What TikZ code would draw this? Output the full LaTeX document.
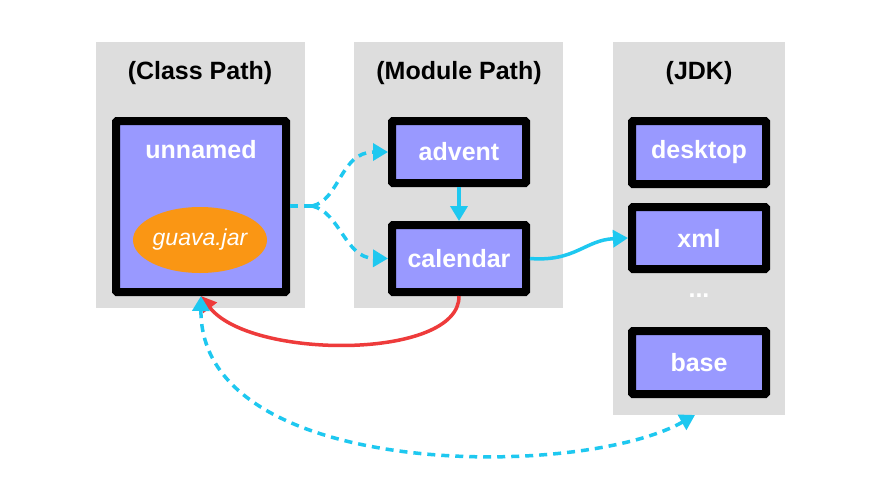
\documentclass[tikz,border=0pt]{standalone}
\usepackage{fontspec}
\setmainfont{Liberation Sans}
\usetikzlibrary{shapes.geometric,arrows.meta}
\definecolor{panel}{HTML}{DDDDDD}
\definecolor{mod}{HTML}{9999FF}
\definecolor{cy}{HTML}{1EC8F0}
\definecolor{rd}{HTML}{EE3B3B}
\definecolor{org}{HTML}{FA9614}
\tikzset{
  x=1pt,y=-1pt,
  panel/.style={fill=panel,draw=none},
  bigf/.style={font=\bfseries\fontsize{25}{28}\selectfont},
  ttl/.style={bigf,text=black},
  mbox/.style={draw=black,line width=8pt,fill=mod,rounded corners=1pt,bigf,text=white,inner sep=0pt},
  tip/.style={Triangle[length=15pt,width=17pt]},
  dep/.style={cy,line width=3.5pt,-{Triangle[length=15pt,width=17pt]}},
  ddep/.style={dep,dash pattern=on 8pt off 6pt},
}
\begin{document}
\begin{tikzpicture}
\useasboundingbox (0,0) rectangle (880,495);
\fill[white] (0,0) rectangle (880,495);
\fill[panel] (96,42) rectangle (305,308);
\fill[panel] (354,42) rectangle (563,308);
\fill[panel] (613,42) rectangle (785,415);
\node[ttl] (t1) at (200,73) {(Class Path)};
\node[ttl] (t2) at (459,73) {(Module Path)};
\node[ttl] (t3) at (699,73) {(JDK)};
\node[mbox,minimum width=170pt,minimum height=171pt] (un) at (201,206.5) {};
\node[bigf,text=white] (unl) at (201,150) {unnamed};
\node[ellipse,fill=org,minimum width=134pt,minimum height=66pt,inner sep=0pt,font=\itshape\fontsize{23}{26}\selectfont,text=white] (gj) at (200,240) {guava.jar};
\node[mbox,minimum width=134pt,minimum height=62pt] (ad) at (459,152) {advent};
\node[mbox,minimum width=134pt,minimum height=67pt] (ca) at (459,258.5) {calendar};
\node[mbox,minimum width=134pt,minimum height=63pt] (de) at (699,152.5) {desktop};
\node[mbox,minimum width=134pt,minimum height=62pt] (xm) at (699,238) {xml};
\node[bigf,text=white] (dots) at (699,296) {...};
\node[mbox,minimum width=134pt,minimum height=63pt] (ba) at (699,362.5) {base};
\coordinate (sp) at (312,206);
\draw[cy,line width=3.5pt,dash pattern=on 8pt off 6pt] (un.east |- sp) -- (sp);
\draw[ddep] (sp) .. controls (340,200) and (340,152) .. (ad.west);
\draw[ddep] (sp) .. controls (340,212) and (345,258) .. (ca.west);
\draw[dep] (ad.south) -- (ca.north);
\draw[dep] (ca.east) .. controls (575,262) and (585,240) .. (xm.west);
\draw[rd,line width=3.5pt,-{Triangle[length=15pt,width=17pt]}] (ca.south) .. controls (460,360) and (250,360) .. (un.south);
\draw[cy,line width=3.5pt,dash pattern=on 8pt off 6pt,{Triangle[length=15pt,width=17pt]}-{Triangle[length=15pt,width=17pt]}] (un.south) .. controls (200,480) and (580,480) .. (695,415);
\end{tikzpicture}
\end{document}
